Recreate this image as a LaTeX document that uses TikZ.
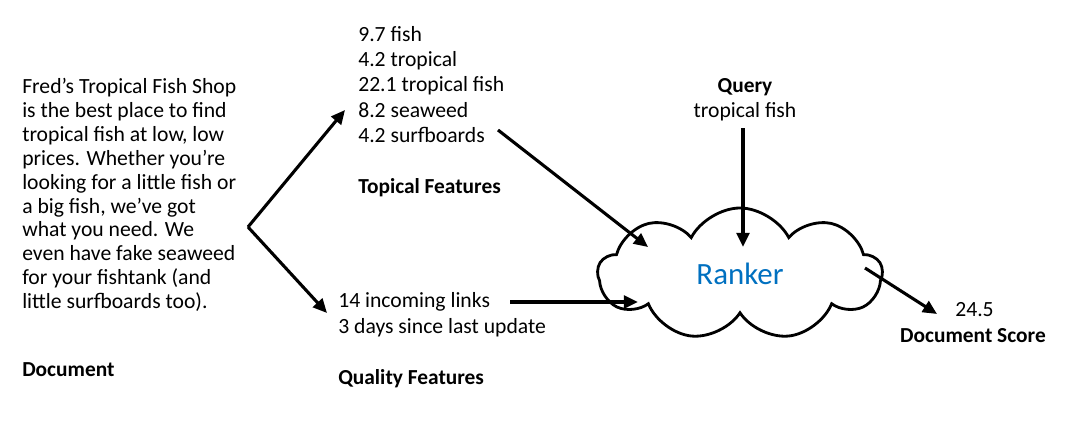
\documentclass[tikz,border=0pt]{standalone}
\usepackage{fontspec}
\setmainfont{Carlito}
\usetikzlibrary{shapes.symbols,arrows.meta}
\definecolor{rankblue}{RGB}{0,112,192}

\begin{document}
\begin{tikzpicture}[x=0.025cm,y=-0.025cm,
	txt/.style = {inner sep=0, anchor=north west, align=left, font=\fontsize{15.4}{17}\selectfont},
	head/.style = {inner sep=0, anchor=base west, font=\fontsize{15.2}{17}\selectfont\bfseries},
	arr/.style = {line width=2.2pt, -{Triangle[length=10pt,width=9pt]}}]
			\useasboundingbox (0,0) rectangle (1070,428);
			
			\node[txt] (doc) at (22,78) {Fred’s Tropical Fish Shop\\is the best place to find\\tropical fish at low, low\\prices. Whether you’re\\looking for a little fish or\\a big fish, we’ve got\\what you need. We\\even have fake seaweed\\for your fishtank (and\\little surfboards too).};
			\node[head] (doclbl) at (22,376) {Document};
			
			\node[txt, font=\fontsize{15.4}{18}\selectfont] (topic) at (358,26) {9.7 fish\\4.2 tropical\\22.1 tropical fish\\8.2 seaweed\\4.2 surfboards};
			\node[head] (topiclbl) at (358,193) {Topical Features};
			
			\node[txt, font=\fontsize{15.4}{18.5}\selectfont] (qual) at (338,292) {14 incoming links\\3 days since last update};
			\node[head] (quallbl) at (338,384) {Quality Features};
			
			\node[head, anchor=base] (query) at (745,92) {Query};
			\node[inner sep=0, anchor=base, font=\fontsize{15.4}{17}\selectfont] (qtext) at (745,117) {tropical fish};
			
			\node[draw, cloud, cloud puffs=9, cloud puff arc=125, aspect=2.1, line width=2pt, inner sep=0,
				minimum width=7.1cm, minimum height=3.3cm, text=rankblue,
				font=\fontsize{22}{26}\selectfont] (ranker) at (740,274) {Ranker};
			
			\node[inner sep=0, anchor=base west, font=\fontsize{15.4}{17}\selectfont] (score) at (955,316) {24.5};
			\node[head, anchor=base] (scorelbl) at (973,342) {Document Score};
			
			\coordinate (fork) at (248,227);
			\coordinate (t1) at (345,110);
			\coordinate (q1) at (327,313);
			\coordinate (t2) at (498,130);
			\coordinate (t3) at (648,247);
			\coordinate (y1) at (743,128);
			\coordinate (y2) at (743,247);
			\coordinate (q2) at (510,302);
			\coordinate (q3) at (638,302);
			\coordinate (r1) at (865,268);
			\coordinate (r2) at (937,314);
			
			\draw[arr] (fork)--(t1);
			\draw[arr] (fork)--(q1);
			\draw[arr] (t2)--(t3);
			\draw[arr] (y1)--(y2);
			\draw[arr] (q2)--(q3);
			\draw[arr] (r1)--(r2);
			
\end{tikzpicture}
\end{document}
